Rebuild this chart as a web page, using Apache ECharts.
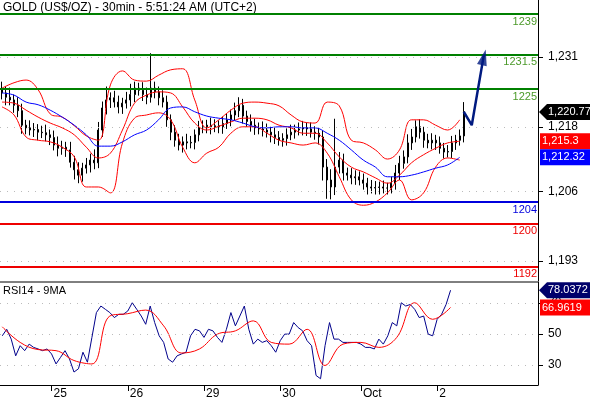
<!DOCTYPE html>
<html><head><meta charset="utf-8">
<script src="https://cdn.jsdelivr.net/npm/echarts@6/dist/echarts.min.js"></script>
<style>html,body{margin:0;padding:0;background:#fff}#c{width:590px;height:400px}</style>
</head><body><div id="c"></div>
<script>
const titleText = 'GOLD (US$/OZ) - 30min - 5:51:24 AM (UTC+2)';
const rsiTitle = 'RSI14 - 9MA';
const dayLabels = ['25','26','29','30','Oct','2'];
const dayIdx = [11,28,45,62,80,97];
const priceTicks = [1193,1206,1218,1231];
const rsiTicks = [30,50,70];
const levelsGreen = [1239,1231.5,1225];
const levelsBlue = [1204];
const levelsRed = [1200,1192];

const closes = [1224.3,1223.5,1223.0,1222.0,1221.0,1218.3,1217.8,1217.4,1217.5,1217.0,
1216.9,1216.5,1216.0,1214.6,1214.0,1214.2,1213.7,1211.4,1210.0,1209.0,
1210.3,1210.9,1211.8,1211.3,1217.4,1221.5,1223.0,1223.4,1222.6,1221.7,
1222.4,1223.0,1224.0,1225.2,1224.8,1224.0,1223.5,1225.2,1224.5,1223.4,
1222.6,1219.3,1217.0,1215.5,1214.6,1215.2,1215.0,1215.1,1216.5,1217.8,
1218.0,1218.3,1218.0,1218.2,1218.0,1218.6,1219.3,1220.2,1221.0,1222.0,
1220.0,1219.0,1218.3,1217.8,1217.6,1217.4,1217.0,1216.5,1216.0,1215.5,
1215.8,1216.5,1217.0,1217.4,1217.6,1217.8,1217.6,1217.0,1216.8,1216.1,
1210.5,1208.1,1206.8,1210.5,1211.8,1209.4,1209.0,1208.5,1208.7,1208.1,
1207.5,1206.8,1206.6,1206.7,1206.8,1206.6,1206.6,1207.5,1209.4,1211.2,
1212.4,1215.0,1216.1,1218.0,1217.0,1215.5,1215.0,1215.5,1215.0,1214.0,
1213.3,1213.4,1215.0,1215.5,1216.3,1220.8];
const wickUp = [1.5,1.2,1.8,1.0,1.5,1.3,1.0,1.4,1.2,1.0,
1.2,1.5,1.0,1.3,1.6,1.2,1.0,1.5,1.2,1.4,
1.0,1.3,1.2,2.0,1.5,1.2,2.5,1.0,1.3,1.2,
1.0,1.5,2.0,1.2,1.0,1.5,1.3,6.5,1.2,1.0,
1.4,1.2,1.0,1.3,1.2,1.0,1.5,1.2,1.0,1.3,
1.2,1.0,1.4,1.2,1.0,1.3,1.2,1.0,1.5,1.5,
1.2,1.0,1.3,1.2,1.0,1.4,1.2,1.0,1.3,1.2,
1.0,1.2,1.4,1.0,1.2,1.3,1.0,1.2,1.1,1.0,
1.2,1.5,2.0,9.0,1.5,1.2,1.0,1.3,1.2,1.0,
1.2,1.0,1.3,1.2,1.0,1.2,1.0,1.2,1.5,1.4,
1.2,1.6,1.5,1.2,1.4,1.0,1.2,1.3,1.0,1.2,
1.0,1.2,1.3,1.0,1.2,1.8];
const wickDown = [1.2,1.5,1.0,1.4,1.2,1.6,1.2,1.0,1.3,1.5,
1.0,1.2,1.4,1.0,1.5,1.2,1.3,1.0,1.8,1.5,
1.2,1.0,1.4,1.2,1.0,1.3,1.2,1.5,1.0,1.2,
1.3,1.0,1.2,1.4,1.0,1.2,1.3,1.0,1.2,1.4,
1.0,1.3,1.5,1.2,1.0,1.4,1.2,1.0,1.3,1.2,
1.0,1.2,1.4,1.0,1.2,1.3,1.0,1.2,1.0,1.2,
1.4,1.0,1.2,1.3,1.0,1.2,1.0,1.4,1.2,1.0,
1.2,1.3,1.0,1.2,1.0,1.2,1.3,1.0,1.2,1.4,
2.5,3.5,2.3,1.5,1.2,1.4,1.0,1.2,1.3,1.0,
1.2,1.4,1.0,1.2,1.3,1.0,1.2,1.0,1.2,1.3,
1.0,1.2,1.3,1.0,1.2,1.4,1.0,1.2,1.3,1.0,
1.2,1.0,1.2,1.3,1.0,1.2];
// bands sampled every 3 candles
const bandUpper = [1225.2,1226.2,1226.7,1224.9,1220.4,1219.8,1218.2,1216.3,1215.5,1225.8,
1228.4,1226.7,1226.5,1227.6,1228.6,1228.8,1223.0,1217.8,1219.3,1221.1,
1222.4,1222.6,1222.4,1221.9,1220.2,1218.9,1218.7,1222.6,1221.9,1215.5,
1215.0,1213.7,1212.0,1213.7,1219.3,1219.3,1218.3,1217.4,1219.3];
const bandMid = [1222.6,1222.4,1221.1,1219.8,1218.7,1217.8,1216.5,1214.2,1212.2,1213.1,
1217.4,1222.4,1223.9,1224.5,1224.3,1221.7,1218.7,1217.4,1218.1,1218.9,
1219.6,1219.6,1219.3,1218.3,1217.8,1216.8,1216.8,1215.0,1212.4,1210.5,
1209.6,1208.5,1207.5,1209.0,1211.3,1212.8,1214.0,1215.0,1215.3];
const bandLower = [1221.7,1220.2,1216.1,1215.5,1215.2,1214.2,1212.4,1206.8,1206.8,1205.7,
1215.0,1219.6,1220.2,1220.6,1219.3,1214.2,1211.3,1213.1,1214.2,1216.8,
1218.0,1218.0,1216.8,1215.5,1215.0,1214.6,1215.0,1213.1,1208.7,1204.4,
1203.4,1204.0,1205.7,1208.1,1204.4,1205.7,1210.5,1212.2,1211.8];
const maBlue = [1224.3,1223.9,1222.6,1222.1,1221.1,1219.8,1218.3,1216.5,1214.4,1214.4,
1215.2,1216.5,1217.4,1219.3,1221.5,1221.7,1220.8,1220.0,1219.6,1219.3,
1218.7,1218.0,1217.8,1218.0,1218.0,1217.8,1217.8,1216.8,1215.5,1213.7,
1211.8,1210.5,1208.7,1208.7,1209.0,1209.6,1210.3,1210.9,1212.32];
const projection = [1220.8,1218.3,1231.3];

const rsi = [48.8,53,46.7,36,42.5,39.3,43.5,41.4,40.4,39.3,40.4,37.2,30.8,35,39.3,34,25.6,27.7,38.3,31.9,
47.8,63.7,67.9,65.8,63.7,60.5,62.6,62.6,64.7,70,65.8,61.5,56.2,67.9,57.3,48.8,44.6,34,31.9,36,
37.2,38.3,48.8,53,52,47.8,53,52,47.8,44.6,53,63.7,55.2,61.5,67.9,53,43.5,46.7,44.6,45.7,
42.5,38.3,45.7,49.9,49.9,57.3,54.1,52,45.7,42.5,23.4,21.3,42.5,57.3,46.7,46.7,44.6,44.6,44.6,44.6,
43.5,41.4,41.4,40.4,46.7,43.5,48.8,57.3,55.2,70,67.9,68.9,65.8,60.5,61.5,49.9,48.8,59.4,62.6,68.9,78.0372];
const rsiMA = [54.6,44.6,40,39.3,33,30.8,61.5,63,65.3,55.2,37.8,40.4,49.9,52,58.4,44.6,43.5,53,29.8,43.5,44.6,41.4,47.8,70,59.4,66.9619];

const N = 134, NR = 120;
const cats = Array.from({length:N},(_,i)=>String(i));
const catsR = Array.from({length:NR},(_,i)=>String(i));
const candles = closes.map((c,i)=>{const o = i? closes[i-1] : c+0.6;
  return [o,c,Math.min(o,c)-wickDown[i],Math.max(o,c)+wickUp[i]];});
function every(arr,step,len){const out=new Array(len).fill(null);arr.forEach((v,k)=>{const idx=Math.min(k*step,len-1);out[idx]=v;});return out;}
const bU = every(bandUpper,3,N), bM = every(bandMid,3,N), bL = every(bandLower,3,N), mB = every(maBlue,3,N);
const rMA = new Array(NR).fill(null); rsiMA.forEach((v,k)=>{rMA[Math.min(k*4,100)]=v;});
const proj = new Array(N).fill(null); proj[115]=projection[0]; proj[117]=projection[1]; proj[120]=projection[2];

const chart = echarts.init(document.getElementById('c'));
const font = 'Liberation Sans, Arial, sans-serif';
function lvl(vals,color,lab){return vals.map(v=>({yAxis:v,lineStyle:{color,width:2,type:'solid'},
  label:{show:true,position:'insideEndBottom',formatter:String(v),color:lab,fontSize:11,fontFamily:font,distance:[1,2]}}));}
const tickIv = (i)=>dayIdx.indexOf(i)>=0;
chart.setOption({
  animation:false,
  grid:[{left:0,right:52,top:0,height:281},{left:0,right:52,top:282,height:104}],
  xAxis:[
    {type:'category',data:cats,gridIndex:0,axisLine:{show:false},axisTick:{show:false},axisLabel:{show:false}},
    {type:'category',data:catsR,gridIndex:1,axisLine:{lineStyle:{color:'#000'}},
     axisTick:{show:true,alignWithLabel:true,interval:(i)=>tickIv(i),length:6,lineStyle:{color:'#000'}},
     axisLabel:{interval:(i)=>tickIv(i),formatter:(v,i)=>dayLabels[dayIdx.indexOf(+v)]||'',align:'left',margin:3,color:'#000',fontSize:12,fontFamily:font,padding:[0,0,0,2]}}
  ],
  yAxis:[
    {type:'value',gridIndex:0,position:'right',min:1189.3,max:1241.6,
     axisLine:{show:true,lineStyle:{color:'#000'}},
     axisTick:{show:true,customValues:priceTicks,length:5,lineStyle:{color:'#000'}},
     axisLabel:{customValues:priceTicks,formatter:v=>Math.round(v).toLocaleString('en-US'),color:'#000',fontSize:12,fontFamily:font,margin:10},
     splitLine:{show:false}},
    {type:'value',gridIndex:1,position:'right',min:17.3,max:83.3,
     axisLine:{show:true,lineStyle:{color:'#000'}},
     axisTick:{show:true,customValues:rsiTicks,length:5,lineStyle:{color:'#000'}},
     axisLabel:{customValues:rsiTicks,color:'#000',fontSize:12,fontFamily:font,margin:10},
     splitLine:{show:false}}
  ],
  series:[
    {type:'line',xAxisIndex:0,yAxisIndex:0,data:new Array(N).fill(null),silent:true,
     markLine:{symbol:'none',silent:true,data:[...lvl(levelsGreen,'#008000','#4c9a2a'),...lvl(levelsBlue,'#0000dd','#0000dd'),...lvl(levelsRed,'#ee0000','#ee0000'),
       ...priceTicks.map(v=>({yAxis:v,lineStyle:{color:'#bbb',width:1,type:[1,6]},label:{show:false}}))]}},
    {type:'line',data:bU,connectNulls:true,smooth:0.4,symbol:'none',lineStyle:{color:'#ff0000',width:1}},
    {type:'line',data:bM,connectNulls:true,smooth:0.4,symbol:'none',lineStyle:{color:'#ff0000',width:1}},
    {type:'line',data:bL,connectNulls:true,smooth:0.4,symbol:'none',lineStyle:{color:'#ff0000',width:1}},
    {type:'line',data:mB,connectNulls:true,smooth:0.4,symbol:'none',lineStyle:{color:'#0000ff',width:1}},
    {type:'candlestick',data:candles,barWidth:1.5,itemStyle:{color:'#000',color0:'#000',borderColor:'#000',borderColor0:'#000',borderWidth:1}},
    {type:'line',data:proj,connectNulls:true,symbol:'none',lineStyle:{color:'#001a80',width:2.5},z:10},
    {type:'scatter',data:proj.map((v,i)=>i===120?v:null),symbol:'triangle',symbolSize:[10,16],symbolRotate:-14,symbolOffset:[0,2],itemStyle:{color:'#001a80'},z:11},
    {type:'line',xAxisIndex:1,yAxisIndex:1,data:new Array(NR).fill(null),
     markLine:{symbol:'none',silent:true,label:{show:false},data:rsiTicks.map(v=>({yAxis:v,lineStyle:{color:'#bbb',width:1,type:[1,6]}}))}},
    {type:'line',xAxisIndex:1,yAxisIndex:1,data:rsi,symbol:'none',lineStyle:{color:'#00008b',width:1}},
    {type:'line',xAxisIndex:1,yAxisIndex:1,data:rMA,connectNulls:true,smooth:0.4,symbol:'none',lineStyle:{color:'#ff0000',width:1}}
  ]
});
function tag(val,axis,bg,text,arrow){
  const y = chart.convertToPixel({yAxisIndex:axis},val);
  const els=[{type:'rect',shape:{x:arrow?547:540,y:y-8,width:arrow?43:50,height:16},style:{fill:bg},z:100}];
  if(arrow) els.push({type:'polygon',shape:{points:[[539,y],[547,y-8],[547,y+8]]},style:{fill:bg},z:100});
  els.push({type:'text',x:arrow?548:542,y:y,style:{text,fill:'#fff',font:'11px '+font,verticalAlign:'middle'},z:101});
  return els;
}
chart.setOption({graphic:[
  {type:'line',shape:{x1:0,y1:282,x2:538,y2:282},style:{stroke:'#000',lineWidth:1}},
  {type:'text',left:3,top:2,style:{text:titleText,fill:'#000',font:'12px '+font}},
  {type:'text',left:3,top:285,style:{text:rsiTitle,fill:'#000',font:'11px '+font}},
  ...tag(1220.77,0,'#000','1,220.77',true),
  ...tag(bandMid[bandMid.length-1],0,'#ff0000','1,215.3',false),
  ...tag(maBlue[maBlue.length-1],0,'#0000ff','1,212.32',false),
  ...tag(rsi[rsi.length-1],1,'#00006b','78.0372',true),
  ...tag(rsiMA[rsiMA.length-1],1,'#ff0000','66.9619',false)
]});
</script></body></html>
